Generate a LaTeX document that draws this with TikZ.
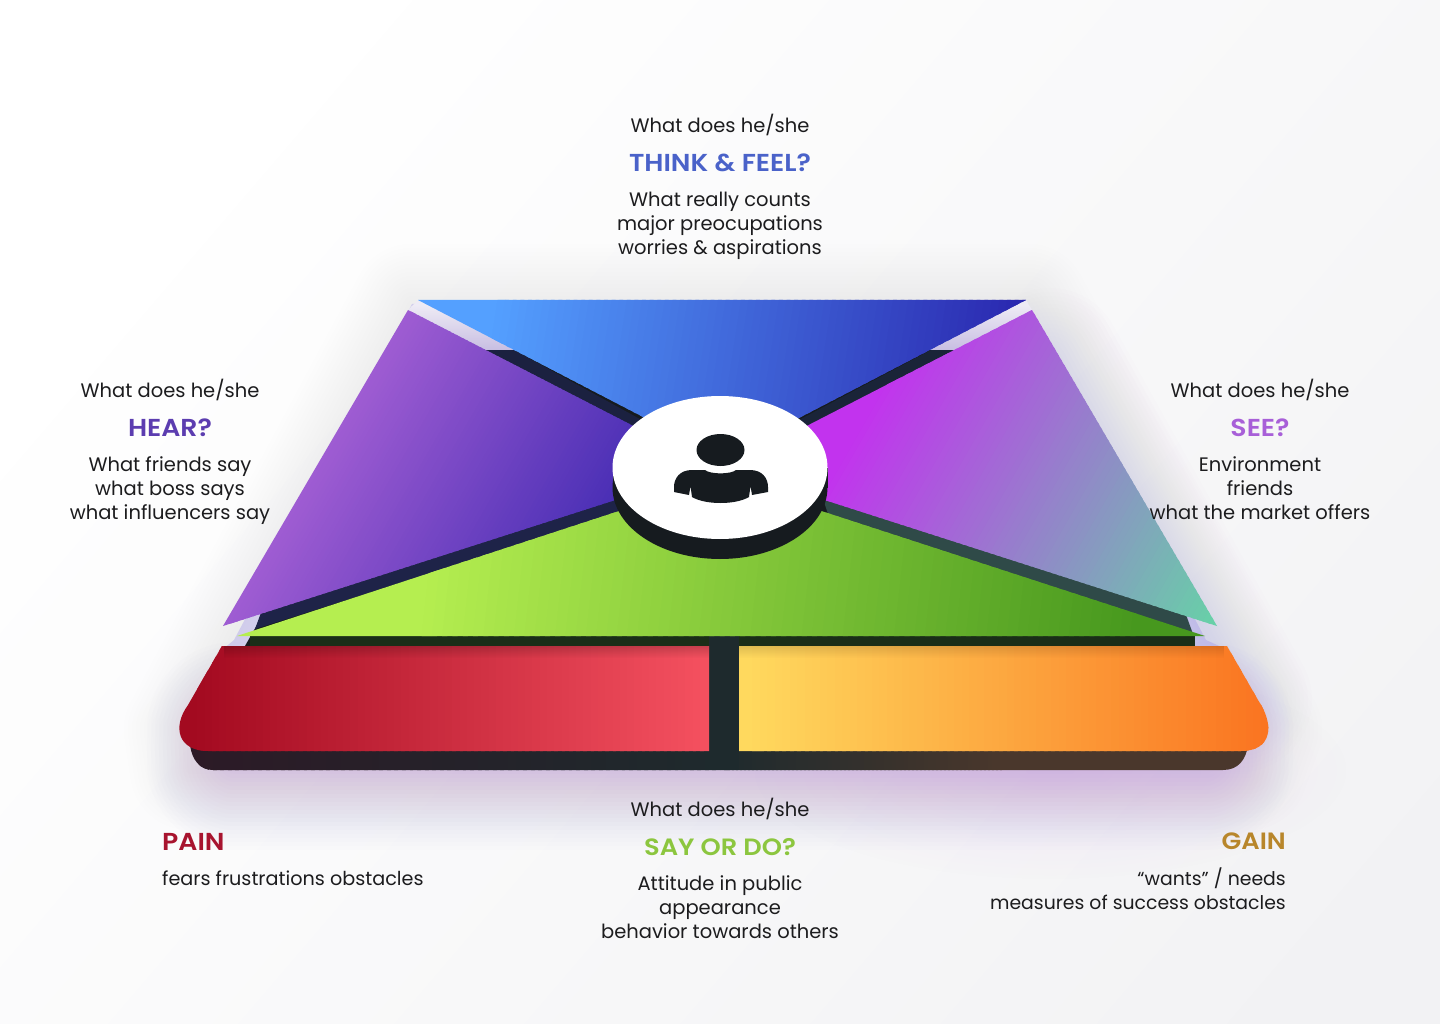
\documentclass[tikz,border=0pt]{standalone}
\usepackage{fontspec}
\setmainfont{Poppins}
\newfontfamily\semib[FakeStretch=1.09]{Poppins SemiBold}
\usetikzlibrary{fadings}
\definecolor{bgA}{HTML}{FFFFFF}
\definecolor{bgB}{HTML}{F2F2F4}
\definecolor{txt}{HTML}{1C1C1E}
\definecolor{ink}{HTML}{161B1F}
\definecolor{blueL}{HTML}{54A0FF}
\definecolor{blueD}{HTML}{2A27AF}
\definecolor{lp}{HTML}{9E5CD2}
\definecolor{ld}{HTML}{4A2FB5}
\definecolor{rp}{HTML}{C233EE}
\definecolor{rg}{HTML}{68D0A8}
\definecolor{gl}{HTML}{B5EE50}
\definecolor{gd}{HTML}{47981E}
\definecolor{redD}{HTML}{A30A20}
\definecolor{redL}{HTML}{F4505F}
\definecolor{yelL}{HTML}{FFD95E}
\definecolor{yelD}{HTML}{FA7320}
\definecolor{glowA}{HTML}{8880C8}
\definecolor{glowL}{HTML}{9C90E8}
\definecolor{glowM}{HTML}{A884E0}
\definecolor{glowB}{HTML}{C070E8}
\definecolor{gapA}{HTML}{EEEBF5}
\definecolor{gapB}{HTML}{C8BEE2}
\definecolor{darkL}{HTML}{2C1A26}
\definecolor{darkM}{HTML}{1E2A2D}
\definecolor{darkR}{HTML}{4A372C}
\definecolor{bandg}{HTML}{1A2E18}
\definecolor{chanA}{HTML}{1E2348}
\definecolor{chanB}{HTML}{2F4A48}
\definecolor{chanC}{HTML}{1B2140}
\definecolor{chanD}{HTML}{1A2438}
\definecolor{thinkc}{HTML}{4A62C9}
\definecolor{hearc}{HTML}{5C3DB0}
\definecolor{seec}{HTML}{A85FD8}
\definecolor{sayc}{HTML}{8CC63F}
\definecolor{painc}{HTML}{A8142F}
\definecolor{gainc}{HTML}{B8862B}
\tikzfading[name=softblob, inner color=transparent!0, outer color=transparent!100]
\tikzset{
 q/.style={font=\fontsize{19.5}{24}\selectfont, text=txt, inner sep=0pt, align=center},
 ql/.style={q, font=\fontsize{19.2}{24}\selectfont, align=left, anchor=west},
 qr/.style={q, font=\fontsize{18.85}{24}\selectfont, align=right, anchor=east},
 ttl/.style={font=\fontsize{24.5}{24}\semib, inner sep=0pt, align=center},
}
\newcommand\gradfill[7]{%
 \begin{scope}
 \clip #1;
 \pgfmathsetmacro\gdx{#4-#2}\pgfmathsetmacro\gdy{#5-#3}
 \pgfmathsetmacro\gang{atan2(-\gdy,\gdx)}\pgfmathsetmacro\glen{10*veclen(\gdx/10,\gdy/10)}
 \pgfmathsetmacro\gst{\glen/70}
 \pgfmathsetmacro\gfe{2*\gst}
 \begin{scope}[shift={(#2,#3)},rotate=\gang]
 \fill[#6] (-3000,-3000) rectangle (\gfe,3000);
 \foreach \k in {1,...,69}{%
  \pgfmathsetmacro\gp{\k*100/70}\pgfmathsetmacro\gx{\gst*\k}\pgfmathsetmacro\gxe{\gst*(\k+1.5)}
  \fill[#7!\gp!#6] (\gx,-3000) rectangle (\gxe,3000);}
 \fill[#7] (\glen,-3000) rectangle (3000,3000);
 \end{scope}
 \end{scope}}
\begin{document}
\begin{tikzpicture}[x=1pt,y=-1pt]
\useasboundingbox (0,0) rectangle (1440,1024);
\gradfill{(0,0)--(1440,0)--(1440,1024)--(0,1024)--cycle}{250}{100}{1300}{1000}{bgA}{bgB}
% glow
\foreach \r in {4,8,...,60}{
 \draw[draw=glowA, draw opacity=.006, line width=2*\r pt, line join=round]
 (412,304)--(1028,304)--(1262,730)--(1248,770)--(190,770)--(184,730)--cycle;}
\foreach \r in {4,8,...,88}{
 \draw[draw=glowM, draw opacity=.016, line width=2*\r pt, line join=round]
 (235,730)--(1205,730)--(1205,762)--(235,762)--cycle;}
\foreach \r in {4,8,...,72}{
 \draw[draw=glowB, draw opacity=.007, line width=2*\r pt, line cap=round]
 (1050,360)--(1240,700);}
\fill[glowL, opacity=.35] (412,304)--(1028,304)--(1206,640)--(1228,650)--(222,650)--(234,640)--cycle;
\fill[glowB, opacity=.12, path fading=softblob] (750,660) rectangle (1350,880);
% gap strips
\gradfill{(408,310)--(418,300)--(514,350)--(486,350)--cycle}{0}{305}{0}{350}{gapA}{gapB}
\gradfill{(1026,300)--(1032,310)--(955,350)--(931,350)--cycle}{0}{305}{0}{350}{gapA}{gapB}
% dark base
\fill[ink] (413,350)--(1030,350)--(1195,646)--(245,646)--cycle;
\gradfill{(245,646)--(720,646)--(720,770)--(213,770) .. controls (200,770) and (192,760) .. (190,745)--cycle}{190}{0}{720}{0}{darkL}{darkM}
\gradfill{(720,646)--(1195,646)--(1248,745) .. controls (1246,760) and (1238,770) .. (1223,770)--(720,770)--cycle}{720}{0}{1000}{0}{darkM}{darkR}
\fill[bandg] (250,636) rectangle (1195,646);
\fill[darkM] (709,636) rectangle (739,770);
% tinted channels under the triangles
\fill[chanA] (262,610)--(620,490)--(630,510)--(255,629)--cycle;
\fill[chanB] (820,490)--(1185,612)--(1193,634)--(830,520)--cycle;
\fill[chanC] (486,350)--(514,350)--(660,430)--(630,430)--cycle;
\fill[chanD] (931,350)--(955,350)--(810,435)--(780,430)--cycle;
% triangles
\gradfill{(418,300)--(1026,300)--(722,458)--cycle}{490}{300}{1010}{380}{blueL}{blueD}
\gradfill{(408,310)--(223,626)--(715,468)--cycle}{315}{470}{550}{606}{lp}{ld}
\gradfill{(1032,310)--(1217,626)--(725,468)--cycle}{860}{420}{1210}{620}{rp}{rg}
\gradfill{(237,636)--(720,478)--(1205,636)--cycle}{420}{560}{1130}{640}{gl}{gd}
% bars
\gradfill{(222,646)--(709,646)--(709,751)--(208,751) .. controls (178,751) and (172,727) .. (188,705)--cycle}{190}{0}{700}{0}{redD}{redL}
\gradfill{(739,646)--(1227,646)--(1258,700) .. controls (1275,725) and (1272,751) .. (1241,751)--(739,751)--cycle}{745}{0}{1268}{0}{yelL}{yelD}
\fill[black, opacity=.18, path fading=south] (224,646) rectangle (709,658);
\fill[black, opacity=.12, path fading=south] (739,646) rectangle (1224,658);
% hub
\fill[ink] (720,487.5) ellipse[x radius=107.5,y radius=71.5];
\fill[ink] (612.5,467.5) rectangle (827.5,487.5);
\fill[white] (720,467.5) ellipse[x radius=107.5,y radius=71.5];
% person
\fill[ink] (720.5,450) ellipse[x radius=24,y radius=16];
\fill[ink] (692,470) -- (705,470) .. controls (710,474.5) and (731,474.5) .. (736,470) -- (750,470)
 .. controls (762,470) and (768,478) .. (768,487) -- (768,492) -- (752,495) -- (750.5,486) -- (749,497)
 .. controls (742,501) and (732,503) .. (720.5,503) .. controls (709,503) and (699,501) .. (692,497)
 -- (690.5,486) -- (689,495) -- (674,492) -- (674,487) .. controls (674,478) and (680,470) .. (692,470) -- cycle;
% text
\node[q] (thq) at (720,125) {What does he/she};
\node[ttl,text=thinkc] (tht) at (720,162.7) {THINK \& FEEL?};
\node[q] (thb) at (720,226) {What really counts\\major preocupations\\worries \& aspirations};
\node[q] (heq) at (170,390) {What does he/she};
\node[ttl,text=hearc] (het) at (170,427.7) {HEAR?};
\node[q] (heb) at (170,491) {What friends say\\what boss says\\what influencers say};
\node[q] (seq) at (1260,390) {What does he/she};
\node[ttl,text=seec] (set) at (1260,427.7) {SEE?};
\node[q] (seb) at (1260,488) {Environment\\friends\\what the market offers};
\node[q] (saq) at (720,809) {What does he/she};
\node[ttl,text=sayc,font=\fontsize{23.6}{24}\semib] (sat) at (720,846.7) {SAY OR DO?};
\node[q] (sab) at (720,907) {Attitude in public\\appearance\\behavior towards others};
\node[ttl,text=painc,anchor=west] (pat) at (162,841.7) {PAIN};
\node[ql] (pab) at (162,878) {fears frustrations obstacles};
\node[ttl,text=gainc,anchor=east,font=\fontsize{23.6}{24}\semib] (gat) at (1286,841.7) {GAIN};
\node[qr] (gab) at (1286,889) {“wants” / needs\\measures of success obstacles};
\end{tikzpicture}
\end{document}
